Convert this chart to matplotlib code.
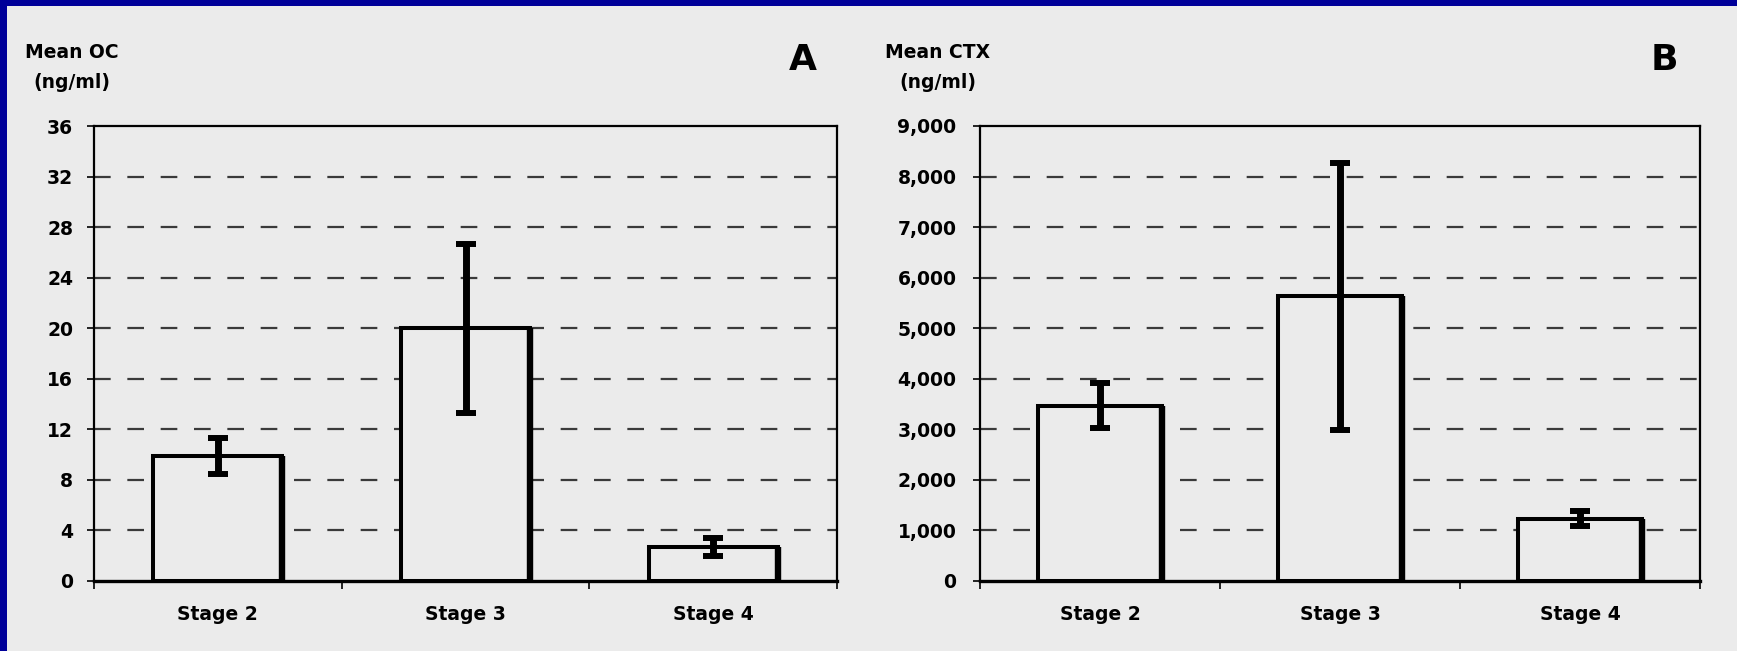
import matplotlib
matplotlib.use("Agg")
import matplotlib.pyplot as plt
from matplotlib.patches import Rectangle
from matplotlib.ticker import FuncFormatter, FixedLocator

# Data
stages = ["Stage 2", "Stage 3", "Stage 4"]
oc_mean = [9.9, 20.0, 2.7]
oc_err = [1.4, 6.7, 0.7]
ctx_mean = [3470, 5630, 1230]
ctx_err = [445, 2640, 150]
oc_ticks = [0, 4, 8, 12, 16, 20, 24, 28, 32, 36]
ctx_ticks = [0, 1000, 2000, 3000, 4000, 5000, 6000, 7000, 8000, 9000]

BG = "#ebebeb"
BLUE = "#000099"
FONT = "DejaVu Sans"

W, H = 1737, 651
fig = plt.figure(figsize=(W / 100, H / 100), dpi=100, facecolor=BLUE)
# light panel inset from the blue frame on the top and left sides
fig.patches.append(Rectangle((7 / W, 0), 1 - 7 / W, 1 - 6 / H,
                             transform=fig.transFigure, facecolor=BG,
                             edgecolor="none", zorder=-10))

bottom = 1 - 581 / H
height = (581 - 126) / H
axA = fig.add_axes([94 / W, bottom, (837 - 94) / W, height])
axB = fig.add_axes([980 / W, bottom, (1700 - 980) / W, height])


def draw_panel(ax, means, errs, ticks, fmt, ylabel_x, letter_x, ylabel, letter, ypad):
    ax.set_facecolor(BG)
    x = list(range(len(stages)))
    bars = ax.bar(x, means, width=0.52, color=BG, edgecolor="black",
                  linewidth=2.9, zorder=3)
    # heavier right-hand edge on each bar
    for b in bars:
        xr = b.get_x() + b.get_width()
        ax.plot([xr, xr], [0, b.get_height()], color="black", lw=4.6,
                solid_capstyle="butt", zorder=4)
    ax.errorbar(x, means, yerr=errs, fmt="none", ecolor="black",
                elinewidth=5, capsize=7.2, capthick=4.3, zorder=5)

    ax.set_xlim(-0.5, len(stages) - 0.5)
    ax.set_ylim(ticks[0], ticks[-1])
    ax.set_yticks(ticks)
    ax.yaxis.set_major_formatter(fmt)
    for t in ticks[1:-1]:
        ax.axhline(t, color="#3a3a3a", lw=1.6, dashes=(7.5, 7.5), zorder=1)

    ax.set_xticks(x)
    ax.set_xticklabels(stages)
    ax.xaxis.set_minor_locator(FixedLocator([i - 0.5 for i in range(len(stages) + 1)]))
    ax.tick_params(axis="x", which="major", length=0, pad=17)
    ax.tick_params(axis="x", which="minor", length=6, width=1.2, direction="out")
    ax.tick_params(axis="y", length=5, width=1.2, direction="out", pad=ypad)
    for lab in ax.get_xticklabels() + ax.get_yticklabels():
        lab.set_fontfamily(FONT)
        lab.set_fontweight("bold")
        lab.set_fontsize(13.5)
    for side in ["top", "left", "right"]:
        ax.spines[side].set_linewidth(1.6)
    ax.spines["bottom"].set_linewidth(2.4)
    ax.spines["bottom"].set_zorder(6)

    fig.text(ylabel_x / W, 1 - 52 / H, ylabel[0], ha="center", va="center",
             fontfamily=FONT, fontweight="bold", fontsize=13.5)
    fig.text(ylabel_x / W, 1 - 82 / H, ylabel[1], ha="center", va="center",
             fontfamily=FONT, fontweight="bold", fontsize=13.5)
    fig.text(letter_x / W, 1 - 60 / H, letter, ha="center", va="center",
             fontfamily=FONT, fontweight="bold", fontsize=26)


draw_panel(axA, oc_mean, oc_err, oc_ticks,
           FuncFormatter(lambda v, p: f"{v:.0f}"), 72, 803,
           ("Mean OC", "(ng/ml)"), "A", 10)
draw_panel(axB, ctx_mean, ctx_err, ctx_ticks,
           FuncFormatter(lambda v, p: f"{v:,.0f}"), 938, 1664,
           ("Mean CTX", "(ng/ml)"), "B", 12)

fig.savefig("out.png", dpi=100, facecolor=BLUE)
